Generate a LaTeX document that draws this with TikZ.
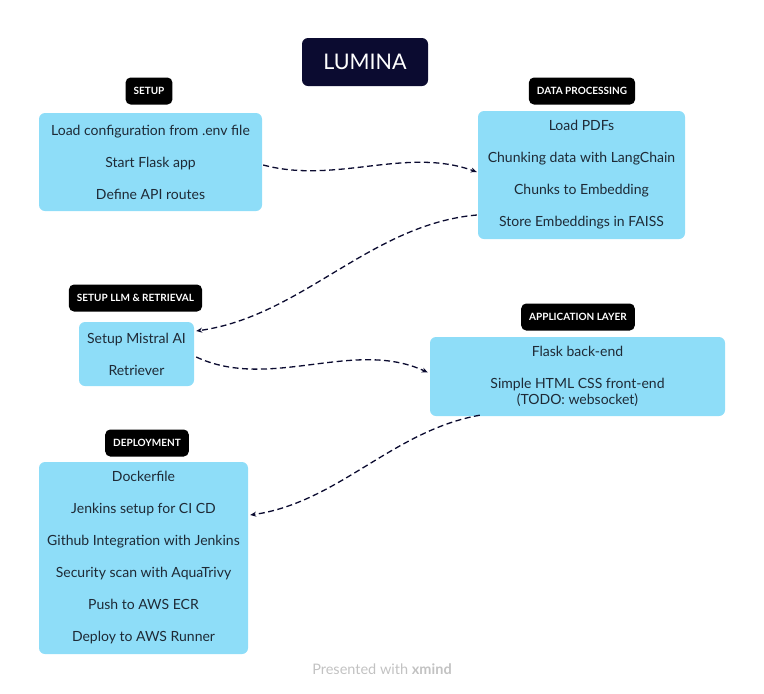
\documentclass[tikz,border=0pt]{standalone}
\usepackage{fontspec}
\setmainfont{Lato}
\usepackage{xcolor}
\usetikzlibrary{arrows.meta,positioning,calc}
\definecolor{navy}{HTML}{0B0B30}
\definecolor{sky}{HTML}{8EDDF8}
\definecolor{ink}{HTML}{1E2A36}
\definecolor{faded}{HTML}{C2C2C2}

\begin{document}
\begin{tikzpicture}[
  x=1pt, y=1pt,
  ttl/.style={rounded corners=6pt, fill=navy, text=white, minimum width=126pt, minimum height=48pt, font=\fontsize{21.5}{24}\selectfont},
  tag/.style={rounded corners=5pt, fill=black, text=white, minimum height=27pt, inner xsep=8pt, font=\fontsize{10}{12}\bfseries\selectfont},
  grp/.style={rounded corners=6pt, fill=sky, text=ink, align=center, inner sep=0pt, font=\fontsize{14}{16}\selectfont},
  lnk/.style={-{Stealth[length=6pt,width=5pt]}, draw=navy, line width=1.3pt, dash pattern=on 6pt off 3.5pt},
]
\useasboundingbox (0,0) rectangle (764,-694);

% title
\node[ttl] (title) at (365,-62) {LUMINA};

% setup
\node[tag] (tsetup) at (149,-91) {SETUP};
\node[grp, minimum width=223pt, minimum height=98pt] (setup) at (150.5,-162) {Load configuration from .env file\\[16pt] Start Flask app\\[16pt] Define API routes};

% data processing
\node[tag] (tdata) at (582,-91) {DATA PROCESSING};
\node[grp, minimum width=207pt, minimum height=128pt] (data) at (581.5,-175) {Load PDFs\\[16pt] Chunking data with LangChain\\[16pt] Chunks to Embedding\\[16pt] Store Embeddings in FAISS};

% llm & retrieval
\node[tag] (tllm) at (135.5,-298) {SETUP LLM \& RETRIEVAL};
\node[grp, minimum width=115pt, minimum height=64pt] (llm) at (136.5,-354) {Setup Mistral AI\\[16pt] Retriever};

% application layer
\node[tag] (tapp) at (578,-317) {APPLICATION LAYER};
\node[grp, minimum width=295pt, minimum height=79pt] (app) at (577.5,-376.5) {Flask back-end\\[16pt] Simple HTML CSS front-end\\ (TODO: websocket)};

% deployment
\node[tag] (tdep) at (147,-443) {DEPLOYMENT};
\node[grp, minimum width=209pt, minimum height=192pt] (dep) at (143.5,-558) {Dockerfile\\[16pt] Jenkins setup for CI CD\\[16pt] Github Integration with Jenkins\\[16pt] Security scan with AquaTrivy\\[16pt] Push to AWS ECR\\[16pt] Deploy to AWS Runner};

% links
\draw[lnk] ($(setup.east)+(1,-3)$) to[out=-15, in=160, looseness=0.9] ($(data.west)+(-1,3)$);
\draw[lnk] ($(data.west)+(-1,-40)$) to[out=185, in=8, looseness=0.9] ($(llm.east)+(2,23)$);
\draw[lnk] ($(llm.east)+(2,-3)$) to[out=-25, in=155, looseness=0.9] ($(app.west)+(-2,4)$);
\draw[lnk] ($(app.south west)+(50,1)$) to[out=190, in=8, looseness=0.9] ($(dep.east)+(2,43)$);

% footer
\node[text=faded, font=\fontsize{14.5}{16}\selectfont] (foot) at (382,-669) {Presented with \textbf{xmind}};
\end{tikzpicture}
\end{document}
